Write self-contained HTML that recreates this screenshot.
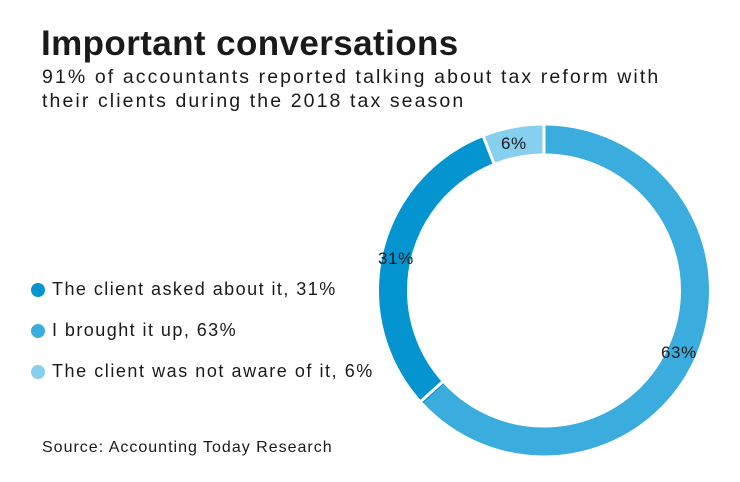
<!DOCTYPE html>
<html><head><style>
body{margin:0;width:740px;height:482px;background:#fff;font-family:"Liberation Sans",sans-serif;color:#1a1a1a;position:relative;overflow:hidden}
.t{position:absolute;white-space:nowrap}
.dot{position:absolute;width:14px;height:14px;border-radius:50%}
</style></head><body>
<div class="t" style="left:41px;top:24px;font-size:35px;font-weight:bold;letter-spacing:0.4px">Important conversations</div>
<div class="t" style="left:42px;top:65px;font-size:19.5px;line-height:24px;letter-spacing:2.1px">91% of accountants reported talking about tax reform with<br>their clients during the 2018 tax season</div>
<svg style="position:absolute;left:0;top:0" width="740" height="482">
<g transform="rotate(-90 544 290.5)" fill="none" stroke-width="28">
<circle cx="544" cy="290.5" r="151" stroke="#3aacde" stroke-dasharray="597.7 2000"/>
<circle cx="544" cy="290.5" r="151" stroke="#0494d0" stroke-dasharray="0 597.7 294.2 2000"/>
<circle cx="544" cy="290.5" r="151" stroke="#86cfee" stroke-dasharray="0 891.9 57 2000"/>
</g>
<g stroke="#fff" stroke-width="3">
<line x1="544" y1="290.5" x2="544" y2="120"/>
<line x1="544" y1="290.5" x2="417.5" y2="404.4"/>
<line x1="544" y1="290.5" x2="481.6" y2="132.2"/>
</g>
<circle cx="544" cy="290.5" r="136" fill="#fff"/>
<g font-size="17" fill="#1a1a1a" font-family="Liberation Sans" letter-spacing="0.6">
<text x="501" y="149">6%</text>
<text x="378" y="264">31%</text>
<text x="661" y="358">63%</text>
</g>
</svg>
<div class="dot" style="left:31px;top:283px;background:#0494d0"></div>
<div class="t" style="left:52px;top:279px;font-size:18px;letter-spacing:1.45px">The client asked about it, 31%</div>
<div class="dot" style="left:31px;top:324px;background:#3aacde"></div>
<div class="t" style="left:52px;top:320px;font-size:18px;letter-spacing:1.45px">I brought it up, 63%</div>
<div class="dot" style="left:31px;top:365px;background:#86cfee"></div>
<div class="t" style="left:52px;top:361px;font-size:18px;letter-spacing:1.55px">The client was not aware of it, 6%</div>
<div class="t" style="left:42px;top:439px;font-size:16px;letter-spacing:1px">Source: Accounting Today Research</div>
</body></html>
